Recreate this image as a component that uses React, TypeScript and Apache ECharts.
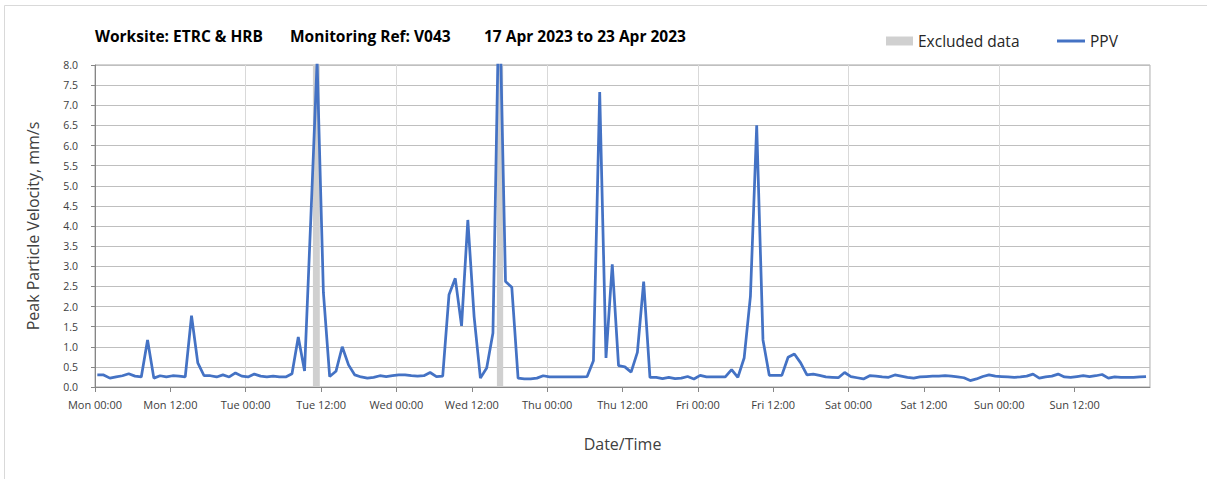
import React, { useEffect, useRef } from "react";
import * as echarts from "echarts";

const TITLE_PARTS = ["Worksite: ETRC & HRB", "Monitoring Ref: V043", "17 Apr 2023 to 23 Apr 2023"];
const DAYS = ["Mon", "Tue", "Wed", "Thu", "Fri", "Sat", "Sun"];
const X_NAME = "Date/Time";
const Y_NAME = "Peak Particle Velocity, mm/s";
const SERIES_PPV = "PPV";
const SERIES_EXCL = "Excluded data";

// hourly samples, first one ~22 minutes after Mon 00:00
const FIRST_SAMPLE_HOUR = 0.37;
const PPV = [
  0.30, 0.30, 0.22, 0.25, 0.28, 0.33, 0.27, 0.25, 1.17, 0.22,
  0.28, 0.25, 0.28, 0.27, 0.25, 1.77, 0.60, 0.28, 0.28, 0.25,
  0.30, 0.25, 0.35, 0.27, 0.25, 0.32, 0.27, 0.25, 0.27, 0.25,
  0.25, 0.33, 1.24, 0.40, 4.20, 8.10, 2.35, 0.26, 0.39, 1.00,
  0.55, 0.30, 0.25, 0.22, 0.24, 0.28, 0.26, 0.28, 0.30, 0.30,
  0.28, 0.27, 0.28, 0.36, 0.26, 0.27, 2.29, 2.70, 1.52, 4.15,
  1.75, 0.22, 0.47, 1.34, 10.0, 2.62, 2.48, 0.22, 0.20, 0.20,
  0.22, 0.28, 0.25, 0.25, 0.25, 0.25, 0.25, 0.25, 0.26, 0.65,
  7.33, 0.72, 3.05, 0.53, 0.50, 0.37, 0.86, 2.62, 0.24, 0.24,
  0.21, 0.24, 0.21, 0.22, 0.26, 0.20, 0.29, 0.25, 0.25, 0.25,
  0.25, 0.43, 0.24, 0.72, 2.25, 6.50, 1.17, 0.29, 0.29, 0.29,
  0.74, 0.82, 0.60, 0.30, 0.32, 0.29, 0.25, 0.24, 0.23, 0.36,
  0.26, 0.23, 0.20, 0.28, 0.27, 0.25, 0.24, 0.30, 0.27, 0.24,
  0.22, 0.25, 0.26, 0.27, 0.27, 0.28, 0.27, 0.25, 0.23, 0.16,
  0.20, 0.26, 0.30, 0.27, 0.26, 0.25, 0.24, 0.25, 0.27, 0.32,
  0.22, 0.25, 0.27, 0.32, 0.25, 0.24, 0.26, 0.28, 0.26, 0.28,
  0.31, 0.22, 0.25, 0.24, 0.24, 0.24, 0.25, 0.26,
];
// excluded periods, hours from Mon 00:00
const EXCLUDED = [
  [34.7, 35.8],
  [64.0, 65.0],
];

const FONT = "'Open Sans', 'Noto Sans', sans-serif";

export default function App() {
  const ref = useRef<HTMLDivElement>(null);
  useEffect(() => {
    const chart = echarts.init(ref.current!, null, { renderer: "svg" });
    const data = PPV.map((v, i) => [FIRST_SAMPLE_HOUR + i, v]);
    const titleLefts = [95, 290, 484];
    chart.setOption({
      animation: false,
      backgroundColor: "#ffffff",
      graphic: [
        {
          type: "rect",
          silent: true,
          shape: { x: 4.5, y: 5.5, width: 1230, height: 500 },
          style: { fill: "none", stroke: "#d9d9d9", lineWidth: 1 },
        },
      ],
      title: TITLE_PARTS.map((t, i) => ({
        text: t,
        left: titleLefts[i],
        top: 28,
        padding: 0,
        textStyle: { fontFamily: FONT, fontSize: 15.5, fontWeight: "bold", color: "#000" },
      })),
      legend: [
        {
          data: [SERIES_EXCL],
          left: 886,
          top: 33,
          padding: 0,
          icon: "rect",
          itemWidth: 27,
          itemHeight: 9,
          textStyle: { fontFamily: FONT, fontSize: 15.5, color: "#262626" },
        },
        {
          data: [SERIES_PPV],
          left: 1057,
          top: 33,
          padding: 0,
          icon: "rect",
          itemWidth: 28,
          itemHeight: 3,
          textStyle: { fontFamily: FONT, fontSize: 15.5, color: "#262626" },
        },
      ],
      grid: {
        left: 95,
        right: 57,
        top: 65,
        bottom: 92,
        show: true,
        borderColor: "#a6a6a6",
        borderWidth: 1,
      },
      xAxis: [
        {
          type: "value",
          min: 0,
          max: 168,
          interval: 12,
          name: X_NAME,
          nameLocation: "middle",
          nameGap: 49,
          nameTextStyle: { fontFamily: FONT, fontSize: 16, color: "#404040" },
          axisLine: { show: true, lineStyle: { color: "#868686", width: 1 } },
          axisTick: { show: true, length: 5, lineStyle: { color: "#868686" } },
          axisLabel: {
            fontFamily: FONT,
            fontSize: 11,
            color: "#404040",
            margin: 12,
            showMaxLabel: false,
            formatter: (v: number) => {
              const d = Math.floor(v / 24);
              const h = v % 24;
              return `${DAYS[d] ?? ""} ${h === 0 ? "00" : "12"}:00`;
            },
          },
          splitLine: { show: false },
        },
        {
          type: "value",
          min: 0,
          max: 168,
          interval: 24,
          position: "top",
          axisLine: { show: false },
          axisTick: { show: false },
          axisLabel: { show: false },
          splitLine: { show: true, lineStyle: { color: "#d9d9d9", width: 1 } },
        },
      ],
      yAxis: {
        type: "value",
        min: 0,
        max: 8,
        interval: 0.5,
        name: Y_NAME,
        nameLocation: "middle",
        nameGap: 54,
        nameTextStyle: { fontFamily: FONT, fontSize: 16, color: "#404040" },
        axisLine: { show: true, lineStyle: { color: "#868686", width: 1 } },
        axisTick: { show: true, length: 4, lineStyle: { color: "#868686" } },
        axisLabel: {
          fontFamily: FONT,
          fontSize: 10.5,
          color: "#404040",
          margin: 17,
          formatter: (v: number) => v.toFixed(1),
        },
        splitLine: { show: true, lineStyle: { color: "#bfbfbf", width: 1 } },
      },
      series: [
        {
          name: SERIES_EXCL,
          type: "line",
          data: [],
          color: "#d0d0d0",
          z: 1,
          markArea: {
            silent: true,
            itemStyle: { color: "#d0d0d0" },
            data: EXCLUDED.map(([a, b]) => [{ xAxis: a }, { xAxis: b }]),
          },
        },
        {
          name: SERIES_PPV,
          type: "line",
          data,
          symbol: "none",
          showSymbol: false,
          color: "#4472C4",
          lineStyle: { color: "#4472C4", width: 2.75 },
          z: 3,
        },
      ],
    });
    return () => chart.dispose();
  }, []);
  return (
    <div
      ref={ref}
      style={{ position: "fixed", left: 0, top: 0, width: 1207, height: 479, background: "#fff" }}
    />
  );
}
